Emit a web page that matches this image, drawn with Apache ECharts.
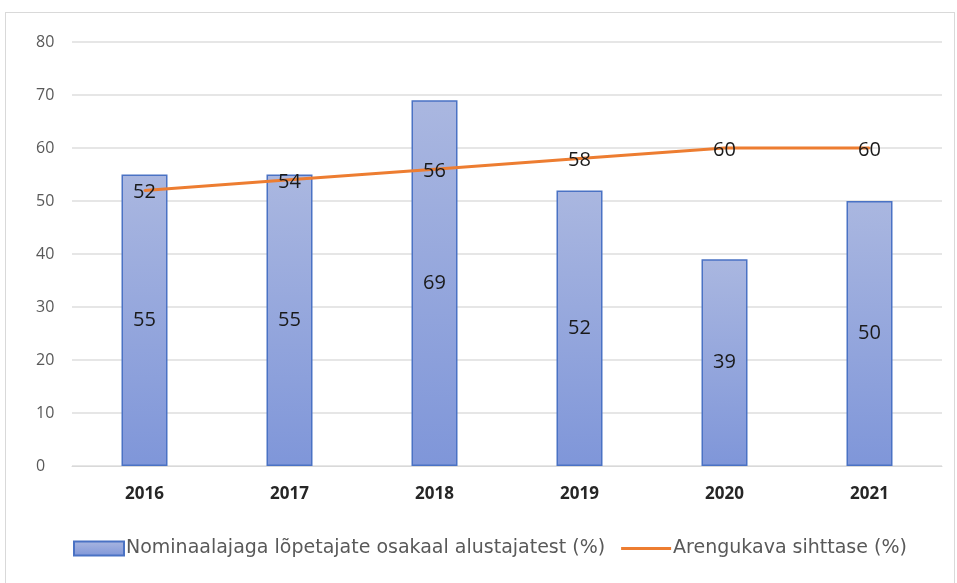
<!DOCTYPE html>
<html>
<head>
<meta charset="utf-8">
<script src="https://cdn.jsdelivr.net/npm/echarts@6/dist/echarts.min.js"></script>
<style>
  html, body { margin: 0; padding: 0; background: #fff; }
  #frame { position: absolute; left: 5px; top: 12px; width: 950px; height: 575px; border: 1px solid #d9d9d9; box-sizing: border-box; }
  #chart { width: 957px; height: 583px; position: absolute; left: 0; top: 0; }
</style>
</head>
<body>
<div id="frame"></div>
<div id="chart"></div>
<script>
var years = ['2016', '2017', '2018', '2019', '2020', '2021'];
var graduates = [55, 55, 69, 52, 39, 50];
var target = [52, 54, 56, 58, 60, 60];
var yTicks = [0, 10, 20, 30, 40, 50, 60, 70, 80];

var chart = echarts.init(document.getElementById('chart'));
var option = {
  animation: false,
  grid: { left: 72, right: 15, top: 42, bottom: 117 },
  legend: {
    bottom: 20,
    left: 68,
    itemGap: 16,
    itemWidth: 50,
    itemHeight: 14,
    textStyle: { color: '#595959', fontSize: 19, fontFamily: 'DejaVu Sans', padding: [0, 0, 0, -3] },
    data: [
      { name: 'Nominaalajaga lõpetajate osakaal alustajatest (%)', icon: 'rect' },
      { name: 'Arengukava sihttase (%)', icon: 'path://M0,0 L50,0 L50,3 L0,3 Z', itemStyle: { color: '#ed7d31', opacity: 1 } }
    ]
  },
  xAxis: {
    type: 'category',
    data: years,
    axisTick: { show: false },
    axisLine: { lineStyle: { color: '#d9d9d9', width: 1 } },
    axisLabel: { color: '#262626', fontSize: 17, fontWeight: 'bold', fontFamily: 'Open Sans', margin: 20 }
  },
  yAxis: {
    type: 'value',
    min: yTicks[0],
    max: yTicks[yTicks.length - 1],
    interval: 10,
    axisLine: { show: false },
    axisTick: { show: false },
    splitLine: { lineStyle: { color: '#e6e6e6', width: 2 } },
    axisLabel: { color: '#595959', fontSize: 16, fontFamily: 'Open Sans', margin: 36, align: 'left' }
  },
  series: [
    {
      name: 'Nominaalajaga lõpetajate osakaal alustajatest (%)',
      type: 'bar',
      data: graduates,
      barWidth: 46,
      itemStyle: {
        color: new echarts.graphic.LinearGradient(0, 0, 0, 1, [
          { offset: 0, color: '#aab7e0' },
          { offset: 1, color: '#7f96d9' }
        ]),
        borderColor: '#4a72c4',
        borderWidth: 1.5
      },
      label: { show: true, position: 'inside', color: '#1a1a1a', fontSize: 20, fontFamily: 'Open Sans' }
    },
    {
      name: 'Arengukava sihttase (%)',
      type: 'line',
      data: target,
      symbol: 'circle',
      symbolSize: 2,
      showSymbol: true,
      lineStyle: { color: '#ed7d31', width: 3 },
      itemStyle: { color: '#ed7d31' },
      label: { show: true, position: 'inside', color: '#1a1a1a', fontSize: 20, fontFamily: 'Open Sans', offset: [0, 2] }
    }
  ]
};
chart.setOption(option);
</script>
</body>
</html>
